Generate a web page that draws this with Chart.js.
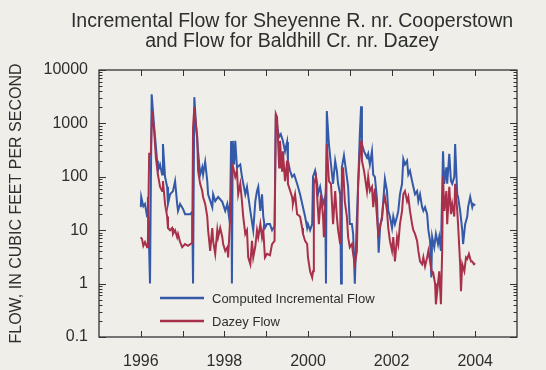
<!DOCTYPE html>
<html>
<head>
<meta charset="utf-8">
<script src="https://cdn.jsdelivr.net/npm/chart.js@4"></script>
<style>
  html, body { margin: 0; padding: 0; background: #efeee8; }
  canvas { display: block; }
</style>
</head>
<body>
<canvas id="flow-chart" width="546" height="370"></canvas>
<script>
/* ---------- DATA ---------- */
const titleLines = ['Incremental Flow for Sheyenne R. nr. Cooperstown', 'and Flow for Baldhill Cr. nr. Dazey'];
const yLabels  = [0.1, 1, 10, 100, 1000, 10000];
const xLabels  = [1996, 1998, 2000, 2002, 2004];
const yearMarks = [1996, 1997, 1998, 1999, 2000, 2001, 2002, 2003, 2004];

// Computed Incremental Flow (cfs)
const blueYears = [
  1996.00, 1996.01, 1996.06, 1996.10, 1996.15, 1996.17, 1996.22, 1996.26, 1996.32, 1996.39,
  1996.41, 1996.46, 1996.51, 1996.53, 1996.58, 1996.63, 1996.65, 1996.70, 1996.77, 1996.82,
  1996.87, 1996.89, 1996.94, 1997.01, 1997.06, 1997.18, 1997.23, 1997.25, 1997.28, 1997.32,
  1997.37, 1997.42, 1997.47, 1997.49, 1997.54, 1997.59, 1997.61, 1997.71, 1997.73, 1997.78,
  1997.85, 1997.95, 1998.02, 1998.07, 1998.11, 1998.14, 1998.16, 1998.18, 1998.20, 1998.23,
  1998.26, 1998.30, 1998.38, 1998.42, 1998.50, 1998.54, 1998.62, 1998.69, 1998.74, 1998.78,
  1998.81, 1998.86, 1998.90, 1998.93, 1998.97, 1999.02, 1999.09, 1999.14, 1999.20, 1999.23,
  1999.28, 1999.31, 1999.35, 1999.40, 1999.45, 1999.50, 1999.52, 1999.57, 1999.62, 1999.67,
  1999.74, 1999.81, 1999.88, 1999.93, 1999.98, 2000.00, 2000.05, 2000.10, 2000.12, 2000.17,
  2000.22, 2000.24, 2000.29, 2000.33, 2000.36, 2000.41, 2000.43, 2000.45, 2000.50, 2000.55,
  2000.60, 2000.65, 2000.69, 2000.72, 2000.77, 2000.79, 2000.81, 2000.86, 2000.91, 2000.96,
  2001.00, 2001.05, 2001.08, 2001.12, 2001.17, 2001.20, 2001.24, 2001.27, 2001.29, 2001.34,
  2001.41, 2001.44, 2001.48, 2001.53, 2001.56, 2001.60, 2001.65, 2001.69, 2001.73, 2001.77,
  2001.80, 2001.84, 2001.89, 2001.92, 2001.96, 2002.01, 2002.04, 2002.08, 2002.13, 2002.16,
  2002.20, 2002.25, 2002.28, 2002.32, 2002.37, 2002.40, 2002.44, 2002.49, 2002.52, 2002.56,
  2002.61, 2002.64, 2002.68, 2002.73, 2002.76, 2002.80, 2002.85, 2002.88, 2002.92, 2002.95,
  2002.97, 2003.02, 2003.06, 2003.11, 2003.14, 2003.18, 2003.23, 2003.26, 2003.31, 2003.33,
  2003.38, 2003.42, 2003.45, 2003.50, 2003.52, 2003.57, 2003.59, 2003.64, 2003.69, 2003.71,
  2003.76, 2003.81, 2003.83, 2003.88, 2003.93, 2003.95, 2004.00
];
const blueFlow = [
  27, 42, 28, 31, 18, 42, 1, 3500, 850, 200,
  130, 170, 110, 410, 100, 65, 31, 47, 54, 83,
  31, 23, 31, 25, 20, 20, 22, 1, 3100, 970,
  300, 110, 150, 110, 190, 83, 47, 27, 47, 35,
  42, 34, 23, 31, 18, 35, 470, 1, 470, 170,
  470, 150, 170, 100, 47, 65, 23, 10, 35, 54,
  65, 23, 47, 18, 11, 13, 13, 10, 12, 1500,
  720, 560, 630, 470, 300, 450, 200, 130, 100, 110,
  74, 47, 27, 18, 11, 13, 10, 13, 100, 130,
  74, 47, 65, 42, 31, 42, 1, 1700, 410, 170,
  74, 200, 130, 74, 47, 1, 150, 250, 130, 65,
  13, 13, 8.5, 1, 18, 74, 630, 2100, 410, 300,
  230, 270, 170, 300, 110, 100, 38, 3.8, 13, 16,
  35, 91, 54, 23, 18, 11, 18, 13, 18, 23,
  47, 74, 215, 170, 200, 110, 130, 83, 65, 47,
  54, 35, 47, 27, 23, 27, 20, 10, 6.3, 1.3,
  7.5, 4.8, 8.5, 5.5, 7.5, 4.1, 300, 74, 150, 74,
  270, 83, 74, 100, 410, 47, 42, 23, 10, 5.5,
  13, 18, 27, 42, 27, 31, 29
];

// Dazey Flow (cfs)
const redYears = [
  1996.00, 1996.03, 1996.06, 1996.10, 1996.15, 1996.17, 1996.20, 1996.24, 1996.27, 1996.32,
  1996.36, 1996.41, 1996.46, 1996.51, 1996.53, 1996.58, 1996.63, 1996.65, 1996.70, 1996.75,
  1996.77, 1996.82, 1996.87, 1996.89, 1996.94, 1996.99, 1997.06, 1997.13, 1997.23, 1997.25,
  1997.28, 1997.30, 1997.35, 1997.37, 1997.42, 1997.47, 1997.49, 1997.54, 1997.59, 1997.61,
  1997.66, 1997.71, 1997.73, 1997.78, 1997.83, 1997.85, 1997.90, 1997.95, 1997.97, 1998.02,
  1998.07, 1998.09, 1998.14, 1998.18, 1998.21, 1998.26, 1998.30, 1998.33, 1998.38, 1998.42,
  1998.45, 1998.50, 1998.54, 1998.57, 1998.62, 1998.66, 1998.69, 1998.74, 1998.78, 1998.81,
  1998.86, 1998.90, 1998.93, 1998.97, 1999.02, 1999.09, 1999.14, 1999.20, 1999.23, 1999.26,
  1999.31, 1999.33, 1999.38, 1999.40, 1999.45, 1999.50, 1999.52, 1999.62, 1999.64, 1999.69,
  1999.74, 1999.81, 1999.86, 1999.88, 1999.93, 1999.98, 2000.00, 2000.05, 2000.10, 2000.12,
  2000.14, 2000.19, 2000.24, 2000.26, 2000.31, 2000.36, 2000.38, 2000.43, 2000.45, 2000.50,
  2000.55, 2000.60, 2000.65, 2000.69, 2000.72, 2000.77, 2000.81, 2000.84, 2000.88, 2000.93,
  2000.96, 2001.00, 2001.05, 2001.08, 2001.12, 2001.17, 2001.20, 2001.24, 2001.27, 2001.29,
  2001.34, 2001.41, 2001.44, 2001.48, 2001.53, 2001.56, 2001.60, 2001.65, 2001.68, 2001.72,
  2001.77, 2001.80, 2001.84, 2001.89, 2001.92, 2001.96, 2002.01, 2002.04, 2002.08, 2002.13,
  2002.16, 2002.20, 2002.25, 2002.28, 2002.32, 2002.37, 2002.40, 2002.44, 2002.49, 2002.52,
  2002.56, 2002.61, 2002.64, 2002.68, 2002.73, 2002.76, 2002.80, 2002.85, 2002.88, 2002.92,
  2002.97, 2002.99, 2003.04, 2003.06, 2003.11, 2003.14, 2003.18, 2003.21, 2003.23, 2003.26,
  2003.31, 2003.33, 2003.38, 2003.42, 2003.45, 2003.50, 2003.52, 2003.57, 2003.59, 2003.64,
  2003.66, 2003.69, 2003.74, 2003.78, 2003.81, 2003.85, 2003.90, 2003.93, 2003.97, 2004.00
];
const redFlow = [
  7.4, 6.8, 5.1, 6.0, 4.8, 6.3, 270, 270, 1700, 720,
  230, 110, 65, 54, 83, 31, 18, 11, 10, 11,
  8.5, 10, 7.4, 8.5, 6.0, 4.8, 5.5, 5.1, 5.8, 850,
  2000, 1300, 560, 130, 74, 54, 42, 31, 18, 10,
  4.1, 11, 6.3, 3.6, 10, 7.4, 11, 7.4, 5.5, 4.1,
  4.8, 3.1, 18, 170, 150, 100, 130, 47, 74, 35,
  18, 8.5, 10, 3.1, 2.3, 6.3, 3.1, 5, 10, 7.4,
  13, 7.4, 10, 3.1, 3.6, 3.4, 5.5, 6.3, 1500, 1300,
  150, 470, 130, 300, 83, 200, 74, 42, 31, 47,
  20, 18, 11, 8.5, 6.3, 5.5, 3.1, 1.7, 1.3, 1.7,
  74, 100, 23, 13, 47, 18, 7.4, 74, 410, 83,
  74, 13, 54, 18, 10, 5.5, 74, 150, 35, 18,
  7.4, 4.8, 5.5, 3.6, 2.3, 4.1, 74, 300, 470, 200,
  130, 54, 100, 54, 65, 27, 60, 18, 8.5, 11,
  18, 31, 42, 23, 11, 6.3, 4.1, 7.4, 2.6, 7.4,
  5.5, 13, 23, 47, 54, 35, 42, 23, 13, 10,
  8.5, 6.3, 4.1, 2.6, 2.3, 3.1, 2.1, 3.1, 4.1, 2.6,
  1.5, 1.7, 1.0, 0.41, 1.0, 1.7, 0.41, 4.1, 100, 23,
  54, 13, 65, 20, 31, 18, 74, 23, 13, 2.3,
  0.72, 2.3, 1.7, 3.1, 2.9, 3.6, 2.6, 2.6, 2.3, 2.4
];

/* ---------- STYLE ---------- */
const FONT = "'Liberation Sans', Arial, Helvetica, sans-serif";
const INK  = '#2e2e2e';
const BLUE = '#3459a8';
const RED  = '#a8304a';

Chart.defaults.font.family = FONT;
Chart.defaults.color = INK;

/* ---------- TITLE, FRAME, TICKS, LEGEND, AXIS TITLE ---------- */
const decorations = {
  id: 'decorations',
  afterDraw(chart) {
    const { ctx, chartArea: a, scales: { x, y } } = chart;
    ctx.save();

    // title (centred a little right of the canvas, as in the scan)
    ctx.fillStyle = INK;
    ctx.font = `19.5px ${FONT}`;
    ctx.textAlign = 'center';
    ctx.textBaseline = 'middle';
    titleLines.forEach((t, i) => ctx.fillText(t, 292, 22 + i * 19.5));

    // frame + inward tick marks
    ctx.strokeStyle = '#333';
    ctx.lineWidth = 1.3;
    ctx.strokeRect(a.left, a.top, a.right - a.left, a.bottom - a.top);
    ctx.beginPath();
    yearMarks.forEach(yr => {
      const px = Math.round(x.getPixelForValue(yr)) + 0.5;
      ctx.moveTo(px, a.bottom); ctx.lineTo(px, a.bottom - 6);
      ctx.moveTo(px, a.top);    ctx.lineTo(px, a.top + 6);
    });
    yLabels.forEach(d => {
      for (let k = 1; k <= 9; k++) {
        const v = d * k;
        if (v > 10000) break;
        const py = Math.round(y.getPixelForValue(v)) + 0.5;
        const len = k === 1 ? 7 : 3.5;
        ctx.moveTo(a.left, py);  ctx.lineTo(a.left + len, py);
        ctx.moveTo(a.right, py); ctx.lineTo(a.right - len, py);
      }
    });
    ctx.lineWidth = 1;
    ctx.stroke();

    // legend
    ctx.font = `13px ${FONT}`;
    ctx.textAlign = 'left';
    const items = [
      { label: 'Computed Incremental Flow', color: BLUE, yy: 298 },
      { label: 'Dazey Flow', color: RED, yy: 321 }
    ];
    items.forEach(it => {
      ctx.strokeStyle = it.color;
      ctx.lineWidth = 2.5;
      ctx.beginPath();
      ctx.moveTo(160, it.yy); ctx.lineTo(204, it.yy);
      ctx.stroke();
      ctx.fillText(it.label, 212, it.yy + 1);
    });

    // y axis title
    ctx.translate(17, (a.top + a.bottom) / 2);
    ctx.rotate(-Math.PI / 2);
    ctx.textAlign = 'center';
    ctx.font = `16px ${FONT}`;
    ctx.fillText('FLOW, IN CUBIC FEET PER SECOND', 0, 0);
    ctx.restore();
  }
};

/* ---------- CHART ---------- */
const toPoints = (xs, ys) => xs.map((yr, i) => ({ x: yr, y: ys[i] }));

new Chart(document.getElementById('flow-chart'), {
  type: 'line',
  data: {
    datasets: [
      {
        label: 'Dazey Flow',
        data: toPoints(redYears, redFlow),
        borderColor: RED,
        borderWidth: 2,
        pointRadius: 0,
        tension: 0,
        order: 1
      },
      {
        label: 'Computed Incremental Flow',
        data: toPoints(blueYears, blueFlow),
        borderColor: BLUE,
        borderWidth: 2,
        pointRadius: 0,
        tension: 0,
        order: 2
      }
    ]
  },
  options: {
    responsive: false,
    animation: false,
    devicePixelRatio: 1,
    layout: { padding: { left: 40, right: 29, top: 70, bottom: 0 } },
    plugins: {
      legend: { display: false },
      tooltip: { enabled: false },
      title: { display: false }
    },
    scales: {
      x: {
        type: 'linear',
        min: 1995, max: 2005,
        grid: { display: false, drawTicks: false },
        border: { display: false },
        afterBuildTicks: s => { s.ticks = xLabels.map(v => ({ value: v })); },
        afterFit: s => { s.height = 33; },
        ticks: {
          autoSkip: false,
          maxRotation: 0,
          padding: 15,
          font: { size: 16 },
          callback: v => String(v)
        }
      },
      y: {
        type: 'logarithmic',
        min: 0.1, max: 10000,
        grid: { display: false, drawTicks: false },
        border: { display: false },
        afterBuildTicks: s => { s.ticks = yLabels.map(v => ({ value: v })); },
        afterFit: s => { s.width = 59; },
        ticks: {
          autoSkip: false,
          padding: 11,
          font: { size: 16 },
          callback: v => String(v)
        }
      }
    }
  },
  plugins: [decorations]
});
</script>
</body>
</html>
